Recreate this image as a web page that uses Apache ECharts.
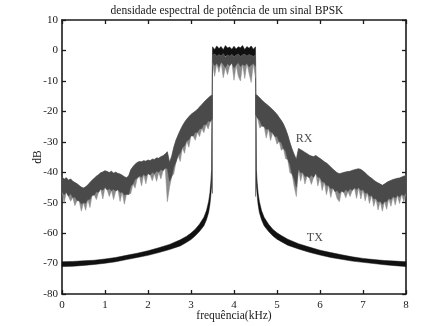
<!DOCTYPE html>
<html>
<head>
<meta charset="utf-8">
<script src="https://cdn.jsdelivr.net/npm/echarts@6/dist/echarts.min.js"></script>
<style>
  html, body { margin: 0; padding: 0; background: #fff; }
  #chart { width: 422px; height: 326px; }
</style>
</head>
<body>
<div id="chart"></div>
<script>
// Power spectral density of a BPSK signal, received (RX) and transmitted (TX), in dB.

// RX is sampled every 0.05 kHz: 0..3.5 kHz below the band, 3.5..4.5 in-band, 4.5..8 above.
const RX_STEP = 0.05;
const RX_LEFT_START = 0;
const RX_IN_START = 3.5;
const RX_RIGHT_START = 4.5;

// RX below the band: upper edge, bottom of the dense core, bottom of the noise spikes (dB)
const rxLeftTop = [
  -41.5, -42.3, -41.8, -42.6, -42.2, -43.0, -43.4, -43.8, -44.4, -44.9,
  -45.2, -44.8, -44.2, -43.4, -42.6, -42.0, -41.3, -40.8, -40.2, -39.9,
  -39.5, -39.8, -40.1, -39.7, -40.3, -40.0, -40.4, -40.6, -41.0, -41.5,
  -41.8, -41.2, -39.2, -38.2, -37.4, -36.8, -36.5, -36.6, -36.2, -36.4,
  -36.0, -36.2, -35.7, -35.8, -35.3, -35.4, -34.9, -34.6, -34.0, -33.3,
  -36.8, -34.8, -31.8, -29.5, -27.8, -26.2, -24.8, -23.6, -22.6, -21.8,
  -21.0, -20.5, -20.0, -19.3, -18.6, -17.8, -17.0, -16.3, -15.6, -15.0,
  -14.6
];
const rxLeftCore = [
  -46.5, -47.4, -46.6, -47.9, -47.0, -48.3, -48.1, -49.3, -49.4, -50.4,
  -50.0, -50.2, -49.0, -48.9, -47.6, -47.5, -46.4, -46.6, -45.5, -45.9,
  -44.9, -45.8, -45.4, -46.0, -45.6, -46.2, -45.7, -46.7, -46.5, -47.5,
  -47.2, -47.3, -44.5, -43.9, -42.3, -42.0, -41.2, -41.6, -40.7, -41.3,
  -40.4, -40.9, -40.0, -40.5, -39.6, -40.0, -39.1, -39.5, -38.6, -38.9,
  -43.0, -41.5, -38.2, -36.7, -34.5, -33.7, -31.9, -31.3, -29.7, -29.3,
  -28.0, -28.1, -26.9, -26.9, -25.7, -25.6, -24.3, -24.3, -23.2, -23.3,
  -22.6
];
const rxLeftSpike = [
  -46.5, -50.0, -46.6, -47.9, -49.5, -48.3, -51.0, -49.3, -49.4, -52.8,
  -50.0, -52.5, -49.0, -51.6, -47.6, -47.5, -49.0, -46.6, -45.5, -48.8,
  -44.9, -45.8, -48.0, -46.0, -49.0, -46.2, -45.7, -49.6, -46.5, -50.5,
  -47.2, -47.3, -47.0, -43.9, -45.2, -42.0, -41.2, -44.5, -40.7, -43.8,
  -40.4, -40.9, -42.8, -40.5, -43.0, -40.0, -42.2, -39.5, -38.6, -49.7,
  -45.0, -41.5, -40.5, -36.7, -34.5, -36.5, -31.9, -33.8, -29.7, -31.8,
  -28.0, -28.1, -29.5, -26.9, -28.3, -25.6, -27.0, -24.3, -25.8, -23.3,
  -22.6
];

// RX inside the band
const rxInTop = [
  -1.6, -1.2, -2.0, -1.4, -1.8, -1.1, -2.2, -1.5, -1.9, -1.3,
  -2.1, -1.6, -1.2, -2.0, -1.5, -1.3, -1.9, -1.4, -1.7, -2.0,
  -1.5
];
const rxInCore = [
  -4.0, -5.0, -4.2, -5.4, -3.8, -4.6, -5.6, -4.3, -5.0, -4.1,
  -5.8, -4.7, -4.0, -5.3, -4.5, -5.0, -4.2, -5.4, -4.8, -4.3,
  -5.2
];
const rxInSpike = [
  -4.0, -8.5, -4.2, -7.2, -3.8, -9.0, -5.6, -8.0, -5.0, -4.1,
  -9.8, -4.7, -8.5, -10.0, -4.5, -9.2, -4.2, -7.5, -10.5, -4.3,
  -9.0
];

// RX above the band
const rxRightTop = [
  -14.4, -14.9, -15.6, -16.4, -17.0, -17.6, -18.2, -18.8, -19.5, -20.2,
  -21.0, -22.0, -23.0, -24.2, -25.8, -27.8, -30.2, -32.4, -34.2, -35.8,
  -32.2, -32.6, -33.0, -33.5, -33.9, -34.4, -34.7, -34.9, -34.5, -35.0,
  -35.5, -36.0, -36.6, -37.0, -37.6, -38.3, -39.0, -39.6, -40.2, -40.5,
  -40.3, -40.1, -39.9, -39.8, -39.7, -39.4, -39.2, -39.0, -38.9, -39.1,
  -39.6, -40.2, -40.9, -41.5, -42.0, -42.6, -43.1, -43.5, -43.9, -44.3,
  -43.9, -43.4, -43.0, -42.7, -42.4, -42.2, -42.0, -41.9, -41.6, -41.3,
  -41.1
];
const rxRightCore = [
  -21.2, -22.3, -23.0, -24.8, -25.0, -26.0, -25.7, -26.8, -27.0, -28.3,
  -28.2, -29.9, -30.2, -32.2, -33.0, -35.8, -37.5, -40.6, -42.2, -44.9,
  -38.9, -40.2, -40.1, -41.4, -41.2, -41.8, -40.9, -41.7, -40.3, -41.6,
  -41.7, -43.2, -43.2, -44.4, -44.3, -45.4, -45.2, -46.4, -46.0, -47.0,
  -46.2, -46.6, -45.7, -46.3, -45.4, -46.0, -45.1, -45.7, -45.0, -46.0,
  -45.7, -46.9, -46.7, -47.9, -47.6, -48.8, -48.6, -49.8, -49.5, -50.5,
  -49.6, -49.7, -48.6, -49.0, -48.0, -48.5, -47.6, -48.1, -47.2, -47.7,
  -46.9
];
const rxRightSpike = [
  -21.2, -22.3, -25.5, -24.8, -25.0, -28.8, -25.7, -29.6, -27.0, -28.3,
  -30.8, -29.9, -32.8, -32.2, -35.6, -35.8, -40.2, -40.6, -44.8, -48.0,
  -38.9, -42.9, -40.1, -43.9, -41.2, -41.8, -44.0, -41.7, -40.3, -44.5,
  -41.7, -46.0, -43.2, -47.4, -44.3, -48.3, -45.2, -46.4, -48.7, -49.7,
  -46.2, -46.6, -48.4, -46.3, -48.0, -46.0, -45.1, -48.6, -45.0, -48.8,
  -45.7, -49.4, -46.7, -50.3, -47.6, -51.2, -48.6, -52.4, -49.5, -52.8,
  -49.6, -52.2, -48.6, -51.2, -48.0, -50.8, -47.6, -50.3, -47.2, -49.8,
  -46.9
];

// Steep RX edges at the band limits, falling to the floor (kHz, dB)
const rxEdgeFreq = [3.5, 4.5];
const rxEdgeFloor = [-47, -48];

// TX: upper and lower edge of the trace (kHz, dB)
const txLeftFreq = [0, 0.25, 0.5, 0.75, 1, 1.25, 1.5, 1.75, 2, 2.25, 2.5, 2.75, 2.9, 3.0, 3.1, 3.2, 3.3, 3.36, 3.41, 3.44, 3.46, 3.48];
const txLeftHi = [-69.4, -69.3, -69.1, -68.9, -68.5, -68.0, -67.3, -66.6, -65.8, -64.8, -63.7, -62.2, -61.0, -60.0, -58.7, -57.0, -54.8, -52.6, -49.6, -46.8, -43.5, -39.0];
const txLeftLo = [-71.0, -70.9, -70.6, -70.3, -69.9, -69.4, -68.7, -68.0, -67.3, -66.4, -65.4, -64.2, -63.0, -62.1, -60.9, -59.4, -57.6, -55.6, -53.2, -50.6, -47.8, -44.5];
const txInTop = [
  1.2, 0.3, 1.5, 0.6, 1.3, 0.2, 1.6, 0.8, 1.1, 0.4,
  1.4, 0.5, 1.2, 0.9, 1.6, 0.3, 1.3, 0.7, 1.5, 0.4,
  1.2
];
const txInBottom = -1.8;
const txRightFreq = [4.52, 4.54, 4.56, 4.59, 4.64, 4.7, 4.8, 4.9, 5.0, 5.1, 5.25, 5.5, 5.75, 6.0, 6.25, 6.5, 6.75, 7.0, 7.25, 7.5, 7.75, 8.0];
const txRightHi = [-39.0, -43.5, -46.8, -49.6, -52.6, -54.8, -57.0, -58.7, -59.9, -60.8, -62.0, -63.5, -64.6, -65.6, -66.4, -67.1, -67.8, -68.3, -68.7, -69.0, -69.2, -69.4];
const txRightLo = [-44.5, -47.8, -50.6, -53.2, -55.6, -57.6, -59.4, -60.9, -62.0, -62.8, -64.0, -65.2, -66.3, -67.2, -68.0, -68.6, -69.2, -69.6, -70.0, -70.4, -70.7, -71.0];

// Curve labels (kHz, dB)
const curveLabels = [
  { name: 'RX', value: [5.63, -28.9] },
  { name: 'TX', value: [5.88, -61.5] }
];

const xTicks = { min: 0, max: 8, interval: 1 };
const yTicks = { min: -80, max: 10, interval: 10 };

// ---------------------------------------------------------------------------

const grid = (start, n) => Array.from({ length: n }, (_, i) => +(start + i * RX_STEP).toFixed(3));
const rxLeftFreq = grid(RX_LEFT_START, rxLeftTop.length);
const rxInFreq = grid(RX_IN_START, rxInTop.length);
const rxRightFreq = grid(RX_RIGHT_START, rxRightTop.length);

const FONT = 'Liberation Serif';
const INK = '#1a1a1a';

// Filled band between an upper and a lower envelope, placed with the axes' own scales.
function band(name, freqs, upper, lower, color, z) {
  return {
    name,
    type: 'custom',
    coordinateSystem: 'cartesian2d',
    silent: true,
    z,
    data: [[freqs[0], upper[0]]],
    renderItem: (params, api) => {
      const pts = [];
      for (let i = 0; i < freqs.length; i++) pts.push(api.coord([freqs[i], upper[i]]));
      for (let i = freqs.length - 1; i >= 0; i--) pts.push(api.coord([freqs[i], lower[i]]));
      return {
        type: 'polygon',
        shape: { points: pts },
        style: { fill: color, stroke: color, lineWidth: 0.5 }
      };
    }
  };
}

const txFreq = txLeftFreq.concat(rxInFreq, txRightFreq);
const txHi = txLeftHi.concat(txInTop, txRightHi);
const txLo = txLeftLo.concat(rxInFreq.map(() => txInBottom), txRightLo);

const SPIKE = '#8a8a8a';
const CORE = '#4a4a4a';

const series = [
  band('TX', txFreq, txHi, txLo, '#111', 2),
  band('RX', rxLeftFreq, rxLeftTop, rxLeftSpike, SPIKE, 3),
  band('RX', rxInFreq, rxInTop, rxInSpike, SPIKE, 3),
  band('RX', rxRightFreq, rxRightTop, rxRightSpike, SPIKE, 3),
  band('RX', rxLeftFreq, rxLeftTop, rxLeftCore, CORE, 4),
  band('RX', rxInFreq, rxInTop, rxInCore, CORE, 4),
  band('RX', rxRightFreq, rxRightTop, rxRightCore, CORE, 4),
  {
    name: 'RX edges',
    type: 'custom',
    coordinateSystem: 'cartesian2d',
    silent: true,
    z: 5,
    data: rxEdgeFreq.map((f, i) => [f, rxEdgeFloor[i], i === 0 ? rxLeftCore[rxLeftCore.length - 1] : rxRightCore[0]]),
    renderItem: (params, api) => {
      const a = api.coord([api.value(0), api.value(2)]);
      const b = api.coord([api.value(0), api.value(1)]);
      return {
        type: 'line',
        shape: { x1: a[0], y1: a[1], x2: b[0], y2: b[1] },
        style: { stroke: '#7d7d7d', lineWidth: 1 }
      };
    }
  },
  {
    name: 'labels',
    type: 'scatter',
    silent: true,
    symbolSize: 0,
    z: 6,
    data: curveLabels,
    label: {
      show: true,
      position: 'inside',
      formatter: p => p.name,
      fontFamily: FONT,
      fontSize: 12,
      color: INK
    }
  }
];

const axisLine = { show: true, onZero: false, lineStyle: { color: INK, width: 1.6 } };
const tick = { show: true, inside: true, length: 4, lineStyle: { color: INK, width: 1.3 } };
const label = { fontFamily: FONT, fontSize: 11, color: INK };
const nameStyle = { fontFamily: FONT, fontSize: 11.5, color: INK };

const chart = echarts.init(document.getElementById('chart'), null, { renderer: 'canvas' });
chart.setOption({
  animation: false,
  backgroundColor: '#fff',
  title: {
    text: 'densidade espectral de potência de um sinal BPSK',
    left: 222,
    top: 0,
    textAlign: 'center',
    textStyle: { fontFamily: FONT, fontSize: 11.5, fontWeight: 'normal', color: INK }
  },
  grid: { left: 62, right: 16, top: 20, bottom: 32, outerBoundsMode: 'none' },
  xAxis: [
    {
      type: 'value', ...xTicks, position: 'bottom',
      axisLine, axisTick: tick, splitLine: { show: false },
      axisLabel: { ...label, margin: 6 },
      name: 'frequência(kHz)', nameLocation: 'middle', nameGap: 16, nameMoveOverlap: false,
      nameTextStyle: nameStyle
    },
    {
      type: 'value', ...xTicks, position: 'top',
      axisLine, axisTick: tick, splitLine: { show: false }, axisLabel: { show: false }
    }
  ],
  yAxis: [
    {
      type: 'value', ...yTicks, position: 'left',
      axisLine, axisTick: tick, splitLine: { show: false },
      axisLabel: { ...label, margin: 4 },
      name: 'dB', nameLocation: 'middle', nameGap: 18, nameRotate: 90, nameMoveOverlap: false,
      nameTextStyle: nameStyle
    },
    {
      type: 'value', ...yTicks, position: 'right',
      axisLine, axisTick: tick, splitLine: { show: false }, axisLabel: { show: false }
    }
  ],
  series
});
</script>
</body>
</html>
